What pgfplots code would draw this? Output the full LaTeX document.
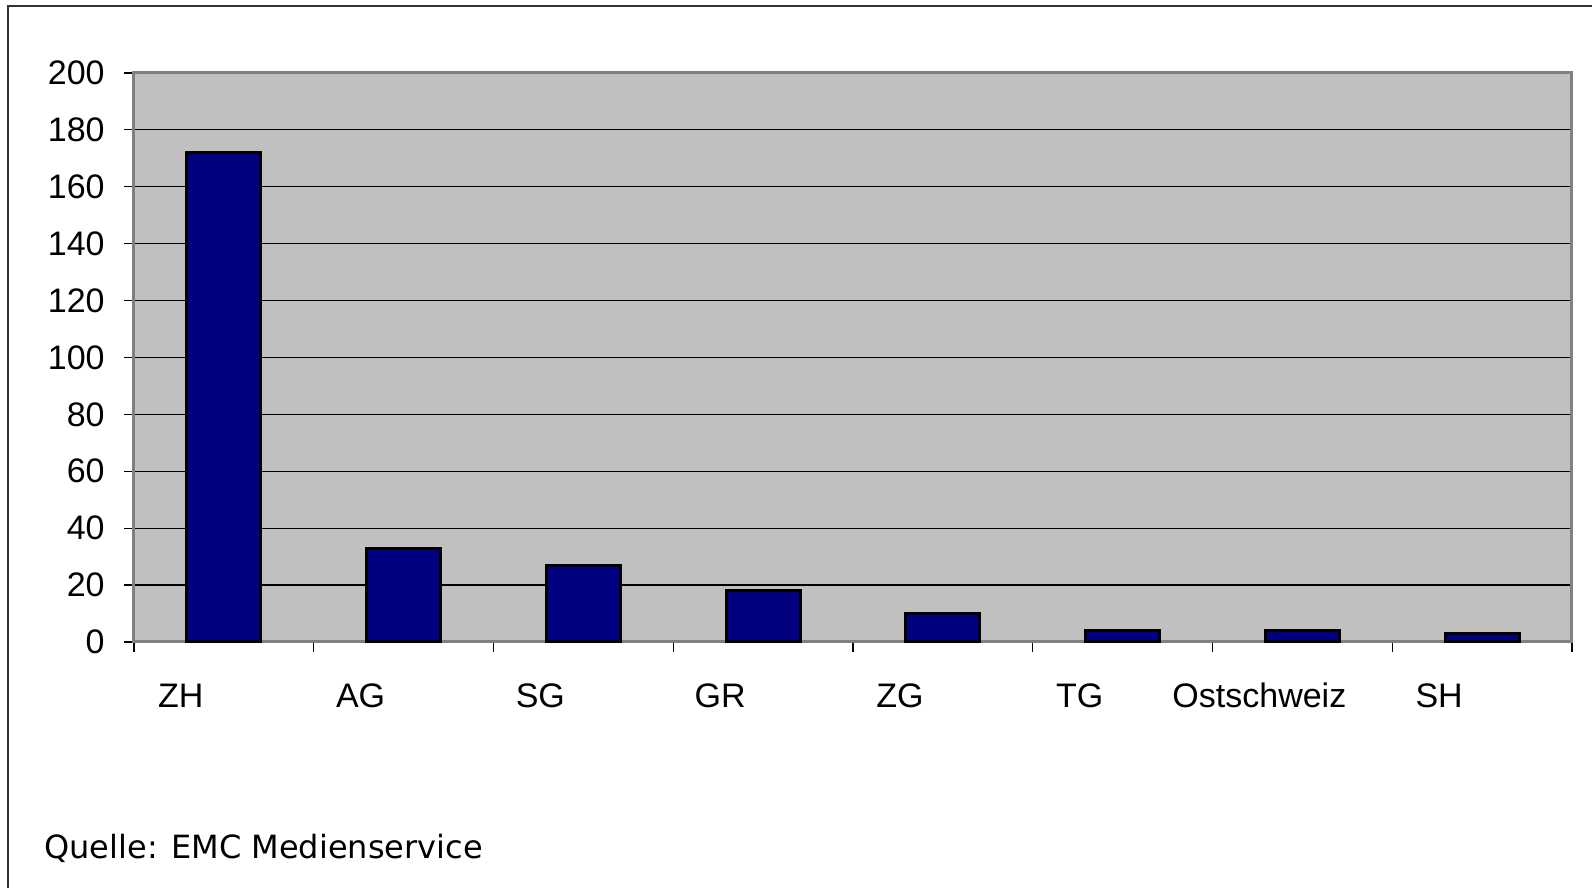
\documentclass[border=0pt]{standalone}
\usepackage{pgfplots}
\pgfplotsset{compat=1.18}
\usepackage{fontspec}
\setmainfont{Liberation Sans}
\newfontfamily\srcfont{DejaVu Sans}
\definecolor{plotgray}{HTML}{C0C0C0}
\definecolor{barnavy}{HTML}{000080}
\definecolor{rimgray}{HTML}{808080}

\pgfplotstableread{
x val
1 172
2 33
3 27
4 18
5 10
6 4
7 4
8 3
}\kantone

\begin{document}
\begin{tikzpicture}
% 1px = 0.5pt
\path[use as bounding box] (0,0) rectangle (796pt,444pt);
\draw[line width=1pt, black!80] (4pt,0) -- (4pt,441pt) -- (796pt,441pt);
\begin{axis}[
  at={(67pt,123pt)}, anchor=south west,
  scale only axis, width=719pt, height=284.5pt,
  xmin=0.5, xmax=8.5, ymin=0, ymax=200,
  axis background/.style={fill=plotgray},
  axis line style={rimgray, line width=1.5pt},
  ytick={0,20,...,200},
  ymajorgrids, grid style={black, line width=0.6pt},
  xtick={0.5,1.5,...,8.5}, xticklabels={},
  xtick pos=bottom, ytick pos=left,
  tick align=outside, major tick length=5pt,
  tick style={black, line width=0.6pt},
  every tick label/.append style={font=\fontsize{17}{20}\selectfont},
  /pgf/number format/assume math mode=true,
  y tick label style={inner sep=0pt, xshift=-9.5pt},
  extra x ticks={1,...,8},
  extra x tick labels={ZH,AG,SG,GR,ZG,TG,Ostschweiz,SH},
  extra x tick style={major tick length=0pt, grid=none,
    tick label style={anchor=base, xshift=-21.5pt, yshift=-33pt}},
  clip=false,
]
\addplot[ybar, bar width=37pt, fill=barnavy, draw=black, line width=1.5pt] table[x=x, y=val] {\kantone};
\end{axis}
\node[anchor=base west, inner sep=0pt, font=\srcfont\fontsize{16}{19}\selectfont] at (22pt,14.5pt) {Quelle: EMC Medienservice};
\end{tikzpicture}
\end{document}
